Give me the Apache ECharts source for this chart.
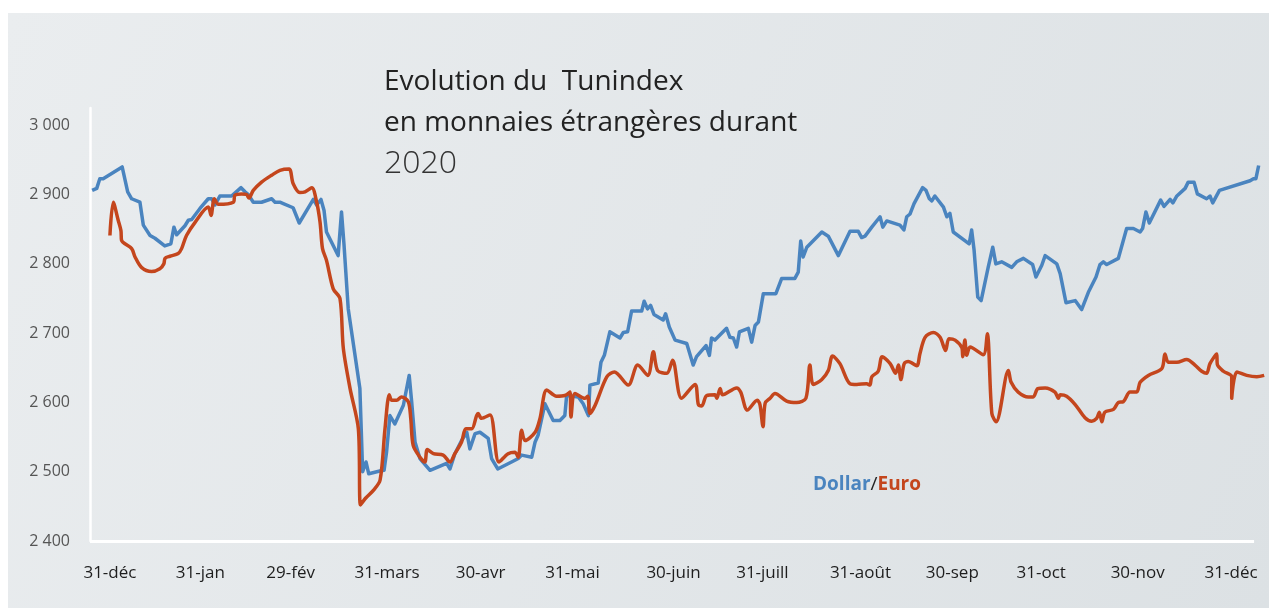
<!DOCTYPE html>
<html>
<head>
<meta charset="utf-8">
<title>Tunindex 2020</title>
<script src="https://cdn.jsdelivr.net/npm/echarts@6/dist/echarts.min.js"></script>
<style>
  html, body { margin: 0; padding: 0; background: #fff; }
  #main { width: 1269px; height: 608px; }
</style>
</head>
<body>
<div id="main"></div>
<script>
// jour (0 = 31-déc-2019), valeur de l'indice
var dollar = [
  [-5.8,2906],[-4.3,2909],[-3.3,2923],[-2.2,2923],[4.0,2940],[5.8,2904],[7.1,2894],[9.8,2889],
  [10.9,2856],[13.1,2841],[14.7,2837],[17.9,2826],[19.9,2829],[20.9,2853],[21.8,2842],[24.5,2855],
  [25.6,2863],[26.7,2864],[29.4,2880],[32.1,2894],[33.2,2894],[34.3,2885],[35.9,2898],[39.7,2898],
  [42.8,2910],[44.1,2904],[45.2,2900],[46.8,2889],[49.5,2889],[52.8,2894],[53.9,2889],[55.5,2889],
  [56.6,2887],[59.8,2881],[61.8,2859],[66.4,2893],[67.5,2885],[68.9,2893],[69.9,2877],[70.7,2846],
  [74.5,2812],[75.6,2875],[76.4,2829],[77.8,2735],[81.6,2620],[82.5,2500],[83.6,2514],[84.5,2497],
  [88.1,2501],[89.5,2502],[90.3,2528],[91.4,2581],[93.0,2569],[95.8,2596],[97.7,2639],[98.5,2601],
  [99.6,2543],[101.2,2519],[104.5,2502],[109.9,2512],[111.0,2504],[112.6,2526],[114.8,2545],[116.5,2557],
  [117.5,2533],[119.2,2555],[120.8,2557],[123.5,2548],[124.6,2519],[126.6,2504],[131.1,2514],[133.3,2519],
  [134.4,2524],[137.7,2521],[138.8,2543],[139.8,2553],[142.0,2598],[144.7,2574],[146.9,2574],[148.5,2581],
  [149.1,2610],[152.9,2608],[154.5,2598],[156.2,2581],[156.7,2625],[159.4,2628],[160.3,2658],[161.4,2668],
  [163.2,2702],[166.5,2693],[167.6,2701],[169.0,2702],[170.3,2732],[173.6,2732],[174.4,2746],[175.5,2735],
  [176.5,2740],[177.6,2727],[180.6,2719],[181.4,2728],[182.6,2709],[184.5,2690],[188.3,2685],[190.4,2654],
  [191.5,2666],[194.6,2682],[195.7,2668],[196.4,2693],[197.5,2690],[201.3,2707],[202.4,2694],[203.5,2693],
  [204.6,2680],[205.5,2702],[208.4,2707],[209.5,2687],[210.6,2711],[211.7,2716],[213.3,2757],[217.4,2757],
  [219.3,2779],[223.6,2779],[224.7,2788],[225.5,2833],[226.3,2810],[227.5,2824],[232.4,2846],[234.5,2840],
  [237.8,2812],[239.4,2827],[241.6,2847],[244.3,2847],[245.4,2838],[246.5,2840],[248.7,2853],[251.4,2868],
  [252.3,2853],[253.6,2862],[257.9,2856],[259.2,2849],[260.1,2868],[261.2,2872],[262.5,2887],[265.3,2910],
  [266.4,2906],[267.5,2894],[268.3,2891],[269.3,2898],[272.1,2882],[273.2,2868],[274.2,2873],[275.3,2846],
  [280.5,2829],[281.3,2849],[282.1,2820],[283.3,2752],[284.4,2747],[286.7,2795],[288.2,2824],[289.2,2800],
  [291.1,2803],[294.4,2795],[296.0,2803],[298.2,2808],[301.2,2799],[302.3,2781],[304.2,2798],[305.3,2812],
  [309.1,2800],[310.2,2786],[312.1,2744],[315.1,2747],[317.2,2734],[319.4,2759],[321.9,2781],[323.2,2799],
  [324.3,2803],[325.4,2799],[329.2,2808],[331.9,2851],[334.1,2851],[336.3,2846],[337.1,2851],[338.2,2875],
  [339.3,2859],[343.0,2892],[344.1,2883],[346.1,2893],[347.0,2888],[348.3,2898],[351.0,2909],[352.0,2918],
  [353.9,2918],[355.0,2901],[358.0,2894],[359.1,2898],[360.0,2888],[362.2,2906],[372.2,2920],[373.3,2923],
  [374.1,2923],[375.0,2942]
];

var euro = [
  [0.0,2841],[1.1,2889],[2.7,2863],[3.6,2848],[3.8,2834],[7.1,2822],[8.2,2810],[10.3,2795],
  [13.6,2789],[16.3,2793],[17.6,2800],[18.0,2808],[19.6,2811],[22.3,2815],[23.4,2822],[25.0,2841],
  [27.8,2860],[32.1,2882],[33.0,2870],[34.1,2894],[35.4,2886],[40.3,2889],[40.8,2899],[43.0,2901],
  [44.6,2900],[45.4,2895],[46.8,2906],[49.5,2918],[52.8,2928],[55.5,2935],[58.5,2937],[59.8,2916],
  [62.0,2903],[63.7,2904],[65.9,2910],[67.5,2889],[68.6,2860],[69.4,2822],[70.7,2805],[72.9,2764],
  [75.1,2750],[76.2,2678],[78.4,2620],[81.1,2562],[81.8,2452],[83.3,2461],[86.0,2473],[88.2,2488],
  [89.8,2562],[91.2,2611],[92.0,2603],[93.6,2603],[95.2,2608],[97.4,2601],[98.2,2577],[99.0,2538],
  [101.2,2521],[102.8,2514],[103.6,2532],[105.6,2526],[108.8,2524],[111.0,2514],[112.6,2526],[114.8,2543],
  [116.2,2562],[118.1,2562],[119.7,2581],[120.2,2584],[121.3,2577],[124.1,2582],[127.0,2514],[130.0,2526],
  [132.2,2528],[133.3,2521],[134.4,2560],[135.5,2545],[138.8,2557],[140.4,2577],[142.6,2618],[145.8,2609],
  [148.5,2610],[150.2,2615],[150.5,2579],[151.8,2613],[155.1,2606],[156.0,2609],[156.7,2584],[158.4,2596],
  [162.2,2637],[164.7,2644],[169.2,2625],[172.3,2654],[175.6,2639],[177.4,2673],[178.8,2646],[181.8,2642],
  [183.7,2661],[186.6,2606],[191.0,2626],[192.1,2597],[193.2,2595],[194.8,2610],[197.5,2611],[198.1,2606],
  [199.2,2620],[200.0,2611],[204.6,2621],[205.9,2615],[208.1,2589],[211.3,2603],[212.2,2597],[213.2,2565],
  [213.9,2599],[215.5,2606],[217.1,2613],[220.9,2602],[224.2,2600],[227.2,2606],[228.5,2654],[229.6,2626],
  [232.4,2633],[234.5,2646],[235.9,2667],[238.3,2656],[241.6,2627],[243.8,2626],[247.0,2627],[248.1,2625],
  [248.7,2637],[250.8,2645],[252.1,2666],[254.7,2656],[256.5,2642],[257.4,2654],[258.2,2633],[259.3,2656],
  [260.6,2659],[263.4,2653],[264.4,2670],[266.1,2694],[268.8,2701],[271.0,2694],[272.8,2675],[273.9,2692],
  [275.9,2690],[278.1,2679],[278.4,2666],[279.1,2690],[279.7,2668],[280.8,2680],[285.1,2669],[286.4,2699],
  [287.9,2584],[289.3,2572],[293.3,2646],[294.2,2629],[296.5,2615],[299.8,2608],[301.4,2608],[302.9,2620],
  [305.3,2621],[308.5,2615],[309.6,2606],[310.2,2611],[312.3,2609],[315.1,2597],[318.3,2578],[320.5,2573],
  [322.1,2577],[323.0,2586],[323.8,2572],[324.8,2586],[327.6,2590],[329.2,2600],[330.8,2601],[333.0,2615],
  [335.2,2615],[336.3,2629],[339.0,2639],[343.4,2649],[344.4,2670],[345.5,2658],[348.3,2658],[351.5,2662],
  [354.2,2654],[356.4,2645],[358.0,2642],[359.1,2656],[361.3,2670],[361.5,2655],[363.5,2645],[366.2,2637],
  [366.2,2606],[367.9,2644],[371.1,2639],[374.4,2637],[376.8,2639]
];

var tickPos = [0, 29.5, 59, 90.5, 121, 151, 184, 213, 245, 275, 304, 335.5, 366];
var tickLabels = ['31-déc', '31-jan', '29-fév', '31-mars', '30-avr', '31-mai', '30-juin',
                  '31-juill', '31-août', '30-sep', '31-oct', '30-nov', '31-déc'];

var titleLines = ['Evolution du  Tunindex', 'en monnaies étrangères durant'];
var titleYear = '2020';

var FONT = '"Open Sans", "Noto Sans", sans-serif';
var BLUE = '#4a84bf';
var ORANGE = '#c4461d';

var myChart = echarts.init(document.getElementById('main'), null, { renderer: 'canvas' });

var option = {
  backgroundColor: '#ffffff',
  animation: false,
  textStyle: { fontFamily: FONT },
  graphic: [
    {
      type: 'rect', z: -10, silent: true,
      shape: { x: 8, y: 13, width: 1261, height: 595 },
      style: {
        fill: new echarts.graphic.LinearGradient(0, 0, 1, 1, [
          { offset: 0, color: '#eaedef' },
          { offset: 1, color: '#dce1e4' }
        ])
      }
    },
    {
      type: 'text', left: 384, top: 62,
      style: { text: titleLines.join('\n'), fill: '#222', font: '28px ' + FONT, lineHeight: 41 }
    },
    {
      type: 'text', left: 384, top: 148,
      style: { text: titleYear, fill: '#333', font: '300 32px ' + FONT }
    },
    {
      type: 'text', left: 813, top: 475,
      style: {
        text: '{d|Dollar}{s|/}{e|Euro}',
        rich: {
          d: { fill: BLUE, font: 'bold 19px ' + FONT },
          s: { fill: '#222', font: '19px ' + FONT },
          e: { fill: ORANGE, font: 'bold 19px ' + FONT }
        }
      }
    }
  ],
  grid: { left: 90, right: 4.2, top: 108, bottom: 67 },
  xAxis: {
    type: 'value',
    min: -6.5,
    max: 377,
    axisLine: { show: false },
    axisTick: { show: false },
    splitLine: { show: false },
    axisLabel: {
      customValues: tickPos,
      margin: 24,
      color: '#1e1e1e',
      fontSize: 17,
      fontFamily: FONT,
      formatter: function (v) {
        var i = tickPos.indexOf(v);
        return i >= 0 ? tickLabels[i] : '';
      }
    }
  },
  yAxis: {
    type: 'value',
    min: 2400,
    max: 3025,
    interval: 100,
    axisLine: { show: true, onZero: false, lineStyle: { color: '#ffffff', width: 2.5 } },
    axisTick: { show: false },
    splitLine: { show: false },
    axisLabel: {
      margin: 20,
      color: '#555',
      fontSize: 16,
      fontFamily: FONT,
      showMaxLabel: false,
      formatter: function (v) {
        if (v % 100 !== 0) return '';
        return String(v).replace(/\B(?=(\d{3})+(?!\d))/g, ' ');
      }
    }
  },
  series: [
    {
      name: 'Dollar',
      type: 'line',
      data: dollar,
      showSymbol: false,
      lineStyle: { color: BLUE, width: 3.5, join: 'round' },
      z: 2,
      // ligne de base blanche de l'axe des x (s'arrête avant la fin des courbes)
      markLine: {
        silent: true,
        symbol: 'none',
        label: { show: false },
        lineStyle: { color: '#ffffff', width: 3, type: 'solid' },
        data: [[{ coord: [-6.5, 2400] }, { coord: [373.5, 2400] }]]
      }
    },
    {
      name: 'Euro',
      type: 'line',
      data: euro,
      showSymbol: false,
      smooth: 0.3,
      lineStyle: { color: ORANGE, width: 3.5, join: 'round' },
      z: 3
    }
  ]
};

myChart.setOption(option);
</script>
</body>
</html>
